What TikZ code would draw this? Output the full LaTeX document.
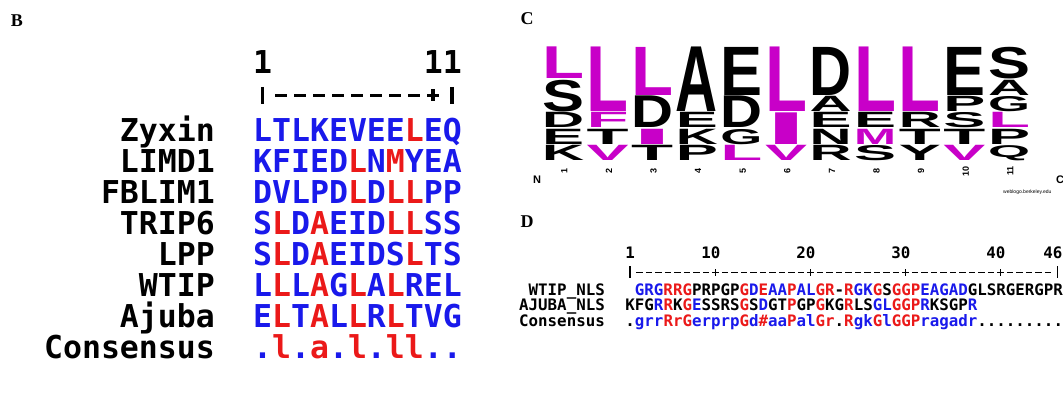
\documentclass[tikz,border=0pt]{standalone}
\usepackage{fontspec}
\usepackage{graphicx}
\setmainfont{Liberation Serif}
\newfontfamily\seqfont{DejaVu Sans Mono}
\newfontfamily\logofont{Liberation Sans}
\definecolor{sb}{RGB}{25,25,235}
\definecolor{sr}{RGB}{235,25,25}
\definecolor{mg}{RGB}{200,0,200}
\newcommand\bl[1]{\textcolor{sb}{#1}}
\newcommand\rd[1]{\textcolor{sr}{#1}}
% logo letter: name, column, start unit, units, colour, letter
\newcommand\lgl[6]{%
  \pgfmathsetmacro\lgx{542+(#2-1)*44.6}%
  \pgfmathsetmacro\lgy{47+(#3+#4)*16.43-1.2}%
  \pgfmathsetmacro\lgh{#4*16.43-1.2}%
  \node[logo,text=#5,anchor=south west] (#1) at (\lgx,\lgy) {\resizebox*{42pt}{\lgh pt}{\logofont\bfseries #6}};}
\tikzset{
  panel/.style={font=\fontsize{18}{18}\selectfont\bfseries, inner sep=0pt},
  seqB/.style={font=\seqfont\bfseries\fontsize{31.5}{31.5}\selectfont, inner sep=0pt},
  seqD/.style={font=\seqfont\bfseries\fontsize{15.8}{15.8}\selectfont, inner sep=0pt},
  logo/.style={inner sep=0pt, outer sep=0pt},
  colnum/.style={font=\logofont\bfseries\fontsize{9}{9}\selectfont, inner sep=0pt, rotate=90},
  rulerB/.style={line width=3.5pt},
  rulerD/.style={line width=1.8pt},
}
\begin{document}
\begin{tikzpicture}[x=1pt,y=-1pt]
\clip (0,0) rectangle (1063,398);
\fill[white] (0,0) rectangle (1063,398);
% ---------------- Panel B ----------------
\node[panel] (labB) at (17,21) {B};
\node[seqB,anchor=base west] (bn1) at (253,73.5) {1};
\node[seqB,anchor=base west] (bn11) at (423.6,73.5) {11};
\foreach \i in {1,11} {\draw[rulerB] ({253+(\i-0.5)*18.96},87) -- ({253+(\i-0.5)*18.96},104);}
\foreach \i in {2,...,10} {\draw[rulerB] ({253+(\i-0.5)*18.96-6},95.5) -- ({253+(\i-0.5)*18.96+6},95.5);}
\draw[rulerB] ({253+9.5*18.96},89.5) -- ({253+9.5*18.96},101.5);
\foreach \n/\t/\s/\b in {
  zyx/Zyxin/{\bl{LTLKEVEE}\rd{L}\bl{EQ}}/141.5,
  lim/LIMD1/{\bl{KFIED}\rd{L}\bl{N}\rd{M}\bl{YEA}}/172.5,
  fbl/FBLIM1/{\bl{DVLPD}\rd{L}\bl{D}\rd{LL}\bl{PP}}/203.5,
  tri/TRIP6/{\bl{S}\rd{L}\bl{D}\rd{A}\bl{EID}\rd{LL}\bl{SS}}/234.5,
  lpp/LPP/{\bl{S}\rd{L}\bl{D}\rd{A}\bl{EIDS}\rd{L}\bl{TS}}/265.5,
  wti/WTIP/{\bl{L}\rd{L}\bl{L}\rd{A}\bl{G}\rd{L}\bl{A}\rd{L}\bl{REL}}/296.5,
  aju/Ajuba/{\bl{E}\rd{L}\bl{T}\rd{A}\bl{L}\rd{L}\bl{R}\rd{L}\bl{TVG}}/327.5,
  con/Consensus/{\bl{.}\rd{l}\bl{.}\rd{a}\bl{.}\rd{l}\bl{.}\rd{ll}\bl{..}}/358.5} {
  \node[seqB,anchor=base east] (\n-lab) at (215,\b) {\t};
  \node[seqB,anchor=base west] (\n-seq) at (253,\b) {\s};
}
% ---------------- Panel C ----------------
\node[panel] (labC) at (527,19) {C};
% column 1
\lgl{c1a}{1}{0}{2}{mg}{L}
\lgl{c1b}{1}{2}{2}{black}{S}
\lgl{c1c}{1}{4}{1}{black}{D}
\lgl{c1d}{1}{5}{1}{black}{E}
\lgl{c1e}{1}{6}{1}{black}{K}
% column 2
\lgl{c2a}{2}{0}{4}{mg}{L}
\lgl{c2b}{2}{4}{1}{mg}{F}
\lgl{c2c}{2}{5}{1}{black}{T}
\lgl{c2d}{2}{6}{1}{mg}{V}
% column 3
\lgl{c3a}{3}{0}{3}{mg}{L}
\lgl{c3b}{3}{3}{2}{black}{D}
\lgl{c3c}{3}{5}{1}{mg}{I}
\lgl{c3d}{3}{6}{1}{black}{T}
% column 4
\lgl{c4a}{4}{0}{4}{black}{A}
\lgl{c4b}{4}{4}{1}{black}{E}
\lgl{c4c}{4}{5}{1}{black}{K}
\lgl{c4d}{4}{6}{1}{black}{P}
% column 5
\lgl{c5a}{5}{0}{3}{black}{E}
\lgl{c5b}{5}{3}{2}{black}{D}
\lgl{c5c}{5}{5}{1}{black}{G}
\lgl{c5d}{5}{6}{1}{mg}{L}
% column 6
\lgl{c6a}{6}{0}{4}{mg}{L}
\lgl{c6b}{6}{4}{2}{mg}{I}
\lgl{c6c}{6}{6}{1}{mg}{V}
% column 7
\lgl{c7a}{7}{0}{3}{black}{D}
\lgl{c7b}{7}{3}{1}{black}{A}
\lgl{c7c}{7}{4}{1}{black}{E}
\lgl{c7d}{7}{5}{1}{black}{N}
\lgl{c7e}{7}{6}{1}{black}{R}
% column 8
\lgl{c8a}{8}{0}{4}{mg}{L}
\lgl{c8b}{8}{4}{1}{black}{E}
\lgl{c8c}{8}{5}{1}{mg}{M}
\lgl{c8d}{8}{6}{1}{black}{S}
% column 9
\lgl{c9a}{9}{0}{4}{mg}{L}
\lgl{c9b}{9}{4}{1}{black}{R}
\lgl{c9c}{9}{5}{1}{black}{T}
\lgl{c9d}{9}{6}{1}{black}{Y}
% column 10
\lgl{c10a}{10}{0}{3}{black}{E}
\lgl{c10b}{10}{3}{1}{black}{P}
\lgl{c10c}{10}{4}{1}{black}{S}
\lgl{c10d}{10}{5}{1}{black}{T}
\lgl{c10e}{10}{6}{1}{mg}{V}
% column 11
\lgl{c11a}{11}{0}{2}{black}{S}
\lgl{c11b}{11}{2}{1}{black}{A}
\lgl{c11c}{11}{3}{1}{black}{G}
\lgl{c11d}{11}{4}{1}{mg}{L}
\lgl{c11e}{11}{5}{1}{black}{P}
\lgl{c11f}{11}{6}{1}{black}{Q}
\foreach \i in {1,...,11} {\node[colnum] (cn\i) at ({542+(\i-0.5)*44.6},171) {\i};}
\node[font=\logofont\bfseries\fontsize{11}{11}\selectfont, inner sep=0pt] (cN) at (537,180) {N};
\node[font=\logofont\bfseries\fontsize{11}{11}\selectfont, inner sep=0pt, anchor=west] (cC) at (1056,180) {C};
\node[font=\logofont\fontsize{5}{5}\selectfont, inner sep=0pt, anchor=west] (cweb) at (1003,192) {weblogo.berkeley.edu};
% ---------------- Panel D ----------------
\node[panel] (labD) at (527,222) {D};
\node[seqD,anchor=base west] (dn1) at (625.25,258.75) {1};
\node[seqD,anchor=base west] (dn10) at (701.25,258.75) {10};
\node[seqD,anchor=base west] (dn20) at (796.25,258.75) {20};
\node[seqD,anchor=base west] (dn30) at (891.25,258.75) {30};
\node[seqD,anchor=base west] (dn40) at (986.25,258.75) {40};
\node[seqD,anchor=base west] (dn46) at (1043.25,258.75) {46};
\foreach \i in {1,46} {\draw[rulerD] ({630+(\i-1)*9.5},266) -- ({630+(\i-1)*9.5},278);}
\foreach \i in {2,...,45} {\draw[rulerD] ({630+(\i-1)*9.5-3.2},272.5) -- ({630+(\i-1)*9.5+3.2},272.5);}
\foreach \i in {10,20,30,40} {\draw[rulerD] ({630+(\i-1)*9.5},269) -- ({630+(\i-1)*9.5},276);}
\node[seqD,anchor=base east] (wtip-lab) at (605,295.75) {WTIP\_NLS};
\node[seqD,anchor=base east] (ajuba-lab) at (605,310.75) {AJUBA\_NLS};
\node[seqD,anchor=base east] (cons-lab) at (605,326.75) {Consensus};
\node[seqD,anchor=base west] (wtip-seq) at (634.75,295.75) {\bl{GRG}\rd{RRG}PRPGP\rd{G}\bl{D}\rd{E}\bl{AA}\rd{P}\bl{AL}\rd{GR}-\rd{R}\bl{GK}\rd{G}S\rd{GGP}\bl{EAGAD}GLSRGERGPR};
\node[seqD,anchor=base west] (ajuba-seq) at (625.25,310.75) {KFG\bl{R}\rd{R}K\rd{G}\bl{E}SSRS\rd{G}S\bl{D}GT\rd{P}GP\rd{G}KG\rd{R}LS\bl{GL}\rd{GGP}\bl{R}KSGP\bl{R}};
\node[seqD,anchor=base west] (cons-seq) at (625.25,326.75) {.\bl{grr}\rd{RrG}\bl{erprp}\rd{G}\bl{d}\rd{\#}\bl{aa}\rd{P}\bl{al}\rd{Gr}.\rd{R}\bl{gk}\rd{G}\bl{l}\rd{GGP}\bl{ragadr}.........};
\end{tikzpicture}
\end{document}
